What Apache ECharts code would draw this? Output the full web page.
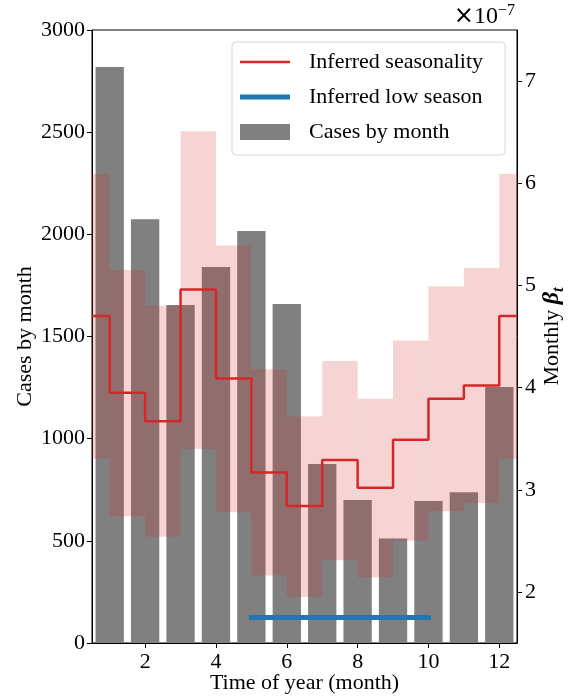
<!DOCTYPE html>
<html><head><meta charset="utf-8">
<script src="https://cdn.jsdelivr.net/npm/echarts@6/dist/echarts.min.js"></script>
<style>html,body{margin:0;padding:0;background:#fff}#c{width:570px;height:698px}</style>
</head><body><div id="c"></div>
<script>
// ---- data ----
const months = [1,2,3,4,5,6,7,8,9,10,11,12];
const casesByMonth = [2819,2074,1654,1840,2016,1659,876,700,512,695,738,1253];
const stepEdges = [0.5,1,2,3,4,5,6,7,8,9,10,11,12,12.5];
const betaMedian = [4.70,3.95,3.67,4.96,4.09,3.17,2.84,3.29,3.02,3.49,3.89,4.02,4.70];
const betaUpper  = [6.09,5.15,4.80,6.51,5.39,4.18,3.72,4.26,3.89,4.46,4.99,5.17,6.09];
const betaLower  = [3.30,2.74,2.54,3.40,2.78,2.16,1.95,2.31,2.14,2.50,2.79,2.87,3.30];
const lowSeasonMonths = [5, 10];
const lowSeasonLevel = 1.75;
const xTicks = [2,4,6,8,10,12];
const yRightTicks = [2,3,4,5,6,7];
const yLeftRange = [0, 3000, 500];
const yRightRange = [1.5, 7.5];

// ---- build series data ----
const barData = months.map((m,i)=>[m, casesByMonth[i]]);
const medianData = stepEdges.map((x,i)=>[x, betaMedian[Math.min(i, betaMedian.length-1)]]);
const bandData = betaMedian.map((_,i)=>[stepEdges[i], stepEdges[i+1], betaLower[i], betaUpper[i]]);
const lowData = lowSeasonMonths.map(m=>[m, lowSeasonLevel]);

const FONT = 'Liberation Serif';
const chart = echarts.init(document.getElementById('c'), null, {renderer:'canvas'});
chart.setOption({
  animation: false,
  backgroundColor: '#fff',
  textStyle: {fontFamily: FONT, color: '#000'},
  grid: {left: 92, right: 53, top: 30, bottom: 55, outerBoundsMode: 'none', containLabel: false,
         show: true, borderColor: '#000', borderWidth: 1, backgroundColor: 'transparent'},
  xAxis: {
    type: 'value', min: 0.5, max: 12.5,
    name: 'Time of year (month)', nameLocation: 'middle', nameGap: 29, nameMoveOverlap: false,
    nameTextStyle: {fontFamily: FONT, fontSize: 22, color: '#000'},
    axisLine: {show: true, lineStyle: {color: '#000', width: 1}},
    axisTick: {show: true, inside: false, length: 5, lineStyle: {color: '#000'}, customValues: xTicks},
    axisLabel: {fontFamily: FONT, fontSize: 22, color: '#000', margin: 8, customValues: xTicks},
    splitLine: {show: false}
  },
  yAxis: [{
    type: 'value', min: yLeftRange[0], max: yLeftRange[1], interval: yLeftRange[2], position: 'left',
    name: 'Cases by month', nameLocation: 'middle', nameGap: 56, nameRotate: 90, nameMoveOverlap: false,
    nameTextStyle: {fontFamily: FONT, fontSize: 22, color: '#000'},
    axisLine: {show: true, lineStyle: {color: '#000', width: 1}},
    axisTick: {show: true, inside: false, length: 5, lineStyle: {color: '#000'}},
    axisLabel: {fontFamily: FONT, fontSize: 22, color: '#000', margin: 7, formatter: v => String(v)},
    splitLine: {show: false}
  }, {
    type: 'value', min: yRightRange[0], max: yRightRange[1], position: 'right',
    name: '{a|Monthly }{b|β}{c|t}', nameLocation: 'middle', nameGap: 20, nameRotate: 90, nameMoveOverlap: false,
    nameTextStyle: {fontFamily: FONT, fontSize: 22, color: '#000',
      rich: {
        a: {fontFamily: FONT, fontSize: 22, color: '#000', lineHeight: 30},
        b: {fontFamily: FONT, fontSize: 24, fontStyle: 'italic', fontWeight: 'bold', color: '#000', lineHeight: 30},
        c: {fontFamily: FONT, fontSize: 16, fontStyle: 'italic', fontWeight: 'bold', color: '#000', lineHeight: 30, verticalAlign: 'bottom'}
      }},
    axisLine: {show: true, lineStyle: {color: '#000', width: 1}},
    axisTick: {show: true, inside: false, length: 5, lineStyle: {color: '#000'}, customValues: yRightTicks},
    axisLabel: {fontFamily: FONT, fontSize: 22, color: '#000', margin: 8, customValues: yRightTicks},
    splitLine: {show: false}
  }],
  legend: {
    orient: 'vertical', left: 232, top: 42,
    padding: [9, 22, 12, 8], itemWidth: 50, itemHeight: 16, itemGap: 13,
    backgroundColor: 'rgba(255,255,255,0.8)', borderColor: '#d6d6d6', borderWidth: 1, borderRadius: 4,
    textStyle: {fontFamily: FONT, fontSize: 22, color: '#000', padding: [0, 0, 0, 14]},
    selectedMode: false,
    data: [
      {name: 'Inferred seasonality', icon: 'path://M0,0H50V2.5H0Z'},
      {name: 'Inferred low season', icon: 'path://M0,0H50V5H0Z'},
      {name: 'Cases by month', icon: 'rect'}
    ]
  },
  graphic: [{
    type: 'text', right: 55, top: 3, z: 100,
    style: {
      text: '{x|×}{a|10}{b|−7}',
      fontFamily: FONT, fontSize: 24,
      rich: {
        x: {fontFamily: 'DejaVu Sans', fontSize: 24, fill: '#000', lineHeight: 28},
        a: {fontFamily: FONT, fontSize: 24, fill: '#000', lineHeight: 28},
        b: {fontFamily: FONT, fontSize: 16, fill: '#000', lineHeight: 28, verticalAlign: 'top'}
      }
    }
  }],
  series: [{
    name: 'Cases by month', type: 'bar', xAxisIndex: 0, yAxisIndex: 0, z: 2,
    data: barData, barWidth: '80%', itemStyle: {color: '#808080'}
  }, {
    name: 'credible band', type: 'custom', xAxisIndex: 0, yAxisIndex: 1, z: 3,
    data: bandData, encode: {x: [0, 1], y: [2, 3]},
    renderItem: function (params, api) {
      const p0 = api.coord([api.value(0), api.value(3)]);
      const p1 = api.coord([api.value(1), api.value(2)]);
      return {type: 'rect', shape: {x: p0[0], y: p0[1], width: p1[0] - p0[0], height: p1[1] - p0[1]},
              style: {fill: 'rgba(214,39,40,0.2)'}};
    }
  }, {
    name: 'Inferred seasonality', type: 'line', xAxisIndex: 0, yAxisIndex: 1, z: 4,
    data: medianData, step: 'end', symbol: 'none',
    itemStyle: {color: '#d62728'}, lineStyle: {color: '#d62728', width: 2.5}
  }, {
    name: 'Inferred low season', type: 'line', xAxisIndex: 0, yAxisIndex: 1, z: 5,
    data: lowData, symbol: 'none',
    itemStyle: {color: '#1f77b4'}, lineStyle: {color: '#1f77b4', width: 5, cap: 'square'}
  }]
});
</script></body></html>
